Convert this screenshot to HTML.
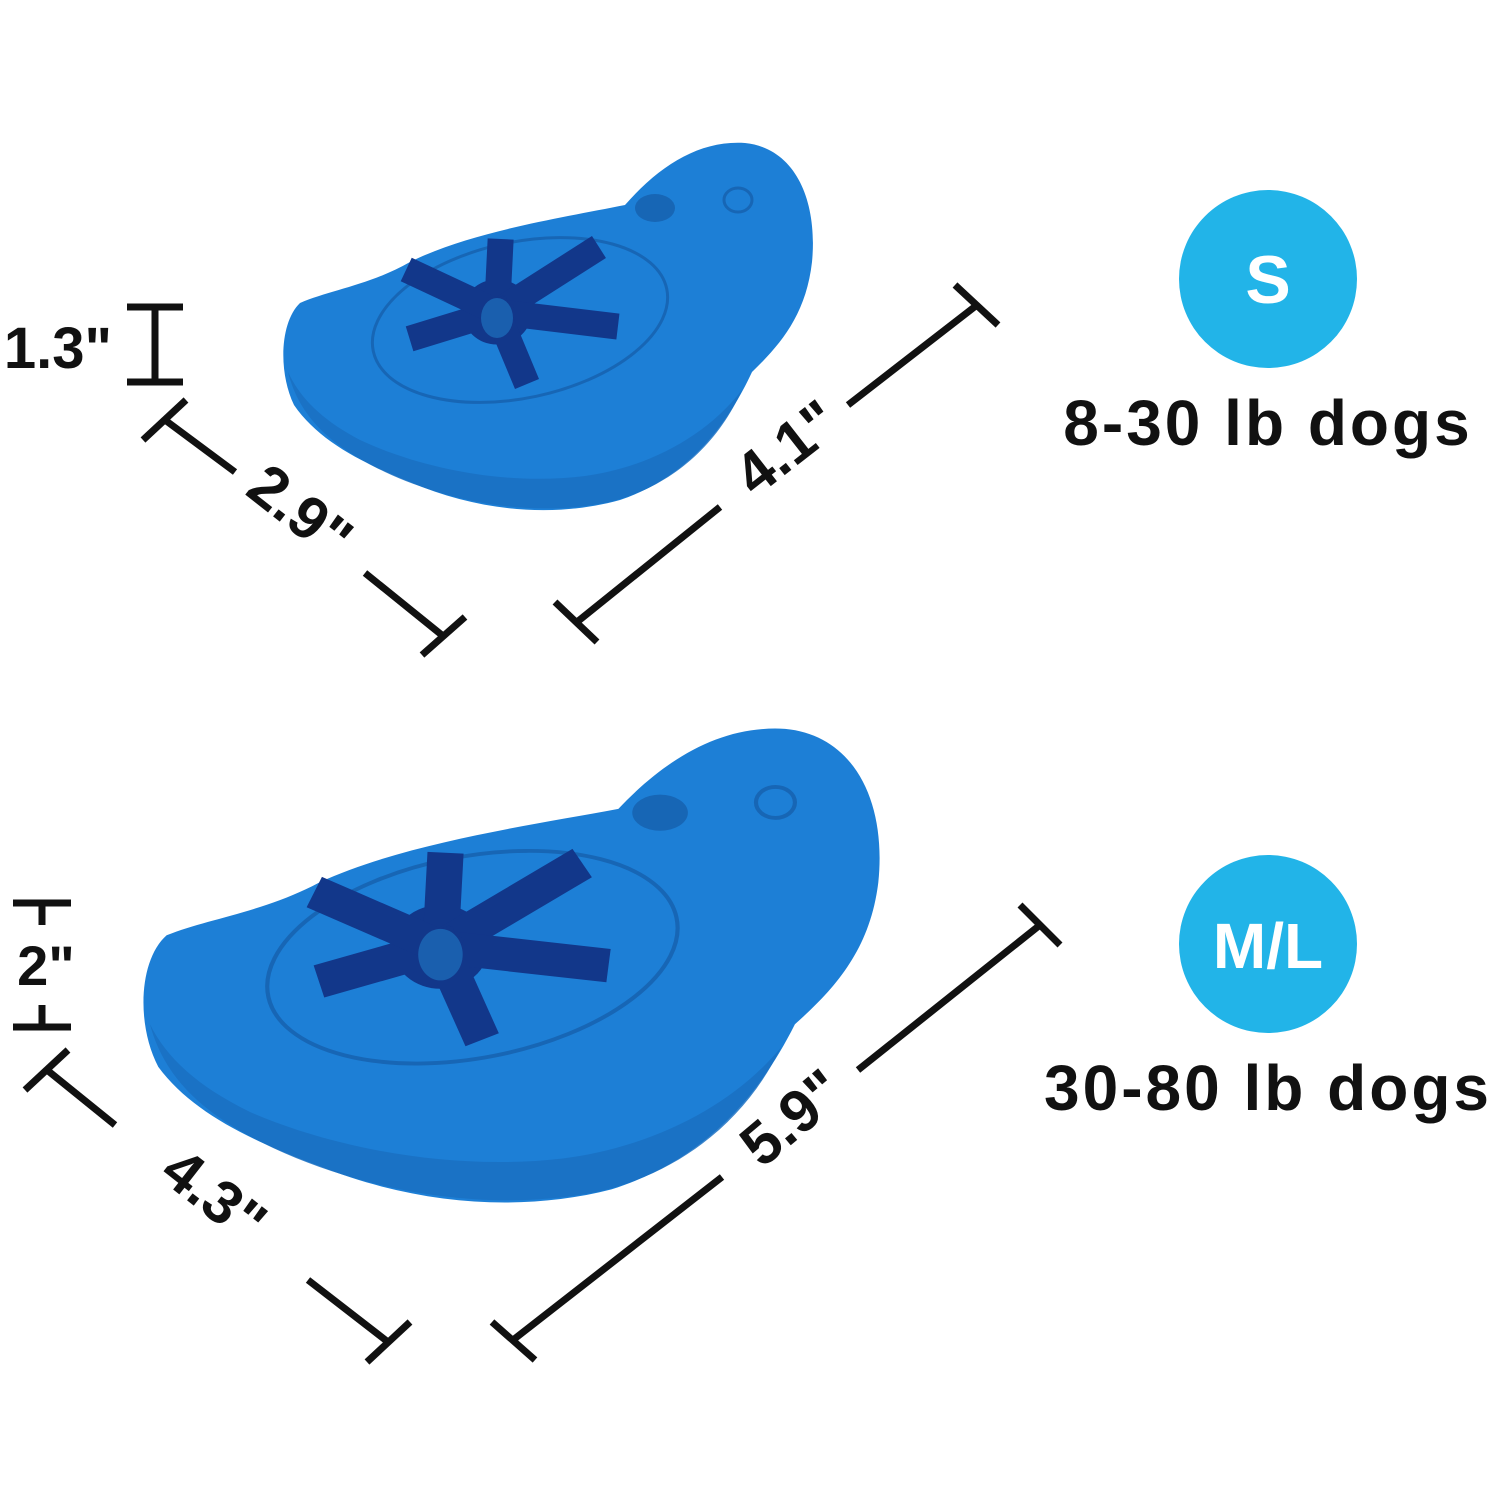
<!DOCTYPE html>
<html><head><meta charset="utf-8"><style>
html,body{margin:0;padding:0;background:#fff;}
svg{display:block}
text{font-family:"Liberation Sans",sans-serif;font-weight:bold;fill:#111;}
</style></head><body>
<svg width="1500" height="1500" viewBox="0 0 1500 1500" xmlns="http://www.w3.org/2000/svg">
<defs>
<g id="toy">
<path d="M300,303 C330,290 370,285 410,262 C470,232 560,218 625,205 C660,165 700,140 745,143 C795,148 818,200 812,262 C806,315 780,345 752,372 C725,430 685,478 620,500 C555,518 480,512 410,482 C360,462 318,440 294,405 C278,372 280,322 300,303 Z" fill="#1d7fd6"/>
<path d="M288,372 C300,420 335,448 385,472 C445,500 525,518 605,503 C665,490 715,450 742,390 C705,438 645,468 585,476 C505,486 420,468 360,440 C322,420 300,398 288,372 Z" fill="#1a70c2" opacity="0.85"/>
<ellipse cx="520" cy="320" rx="150" ry="78" fill="none" stroke="#1766b5" stroke-width="3" transform="rotate(-12 520 320)"/>
<ellipse cx="655" cy="208" rx="20" ry="14" fill="#1766b5"/>
<ellipse cx="738" cy="200" rx="14" ry="12" fill="none" stroke="#1766b5" stroke-width="3"/>
<g fill="#12378a" stroke="#12378a" stroke-linecap="square">
<ellipse cx="497" cy="312" rx="34" ry="32"/>
<g stroke-width="26">
<line x1="497" y1="312" x2="500" y2="252"/>
<line x1="497" y1="312" x2="588" y2="254"/>
<line x1="497" y1="312" x2="605" y2="325"/>
<line x1="497" y1="312" x2="522" y2="372"/>
<line x1="497" y1="312" x2="422" y2="335"/>
<line x1="497" y1="312" x2="418" y2="275"/>
</g>
</g>
<ellipse cx="497" cy="318" rx="16" ry="20" fill="#1a5fae"/>
</g>
</defs>
<use href="#toy"/>
<use href="#toy" transform="translate(143,725) scale(1.39,1.29) translate(-283,-140)"/>

<g stroke="#111" stroke-width="7" fill="none">
<line x1="155" y1="307" x2="155" y2="382"/><line x1="127" y1="307" x2="183" y2="307"/><line x1="127" y1="382" x2="183" y2="382"/>
<line x1="165" y1="420" x2="235" y2="472"/><line x1="365" y1="573" x2="443" y2="636"/>
<line x1="143" y1="440" x2="186" y2="400"/><line x1="422" y1="655" x2="465" y2="617"/>
<line x1="577" y1="622" x2="720" y2="507"/><line x1="848" y1="405" x2="977" y2="305"/>
<line x1="555" y1="602" x2="597" y2="642"/><line x1="955" y1="285" x2="998" y2="325"/>
<line x1="42" y1="903" x2="42" y2="925"/><line x1="42" y1="1005" x2="42" y2="1027"/><line x1="13" y1="903" x2="71" y2="903"/><line x1="13" y1="1027" x2="71" y2="1027"/>
<line x1="47" y1="1070" x2="115" y2="1125"/><line x1="308" y1="1280" x2="388" y2="1342"/>
<line x1="25" y1="1090" x2="68" y2="1050"/><line x1="367" y1="1362" x2="410" y2="1322"/>
<line x1="513" y1="1340" x2="722" y2="1177"/><line x1="858" y1="1070" x2="1040" y2="925"/>
<line x1="492" y1="1322" x2="535" y2="1360"/><line x1="1020" y1="905" x2="1060" y2="945"/>
</g>

<text x="58" y="368" font-size="58" text-anchor="middle">1.3"</text>
<text font-size="60" text-anchor="middle" transform="translate(300,512) rotate(38)" y="20">2.9"</text>
<text font-size="60" text-anchor="middle" transform="translate(787,448) rotate(-38)" y="20">4.1"</text>
<text x="46" y="985" font-size="56" text-anchor="middle">2"</text>
<text font-size="60" text-anchor="middle" transform="translate(214,1196) rotate(38)" y="20">4.3"</text>
<text font-size="60" text-anchor="middle" transform="translate(792,1118) rotate(-40)" y="20">5.9"</text>

<circle cx="1268" cy="279" r="89" fill="#22b4e8"/>
<text x="1268" y="303" font-size="68" text-anchor="middle" style="fill:#fff">S</text>
<text x="1268" y="445" font-size="64" text-anchor="middle" letter-spacing="3">8-30 lb dogs</text>
<circle cx="1268" cy="944" r="89" fill="#22b4e8"/>
<text x="1268" y="968" font-size="64" text-anchor="middle" style="fill:#fff">M/L</text>
<text x="1268" y="1110" font-size="64" text-anchor="middle" letter-spacing="3">30-80 lb dogs</text>
</svg>
</body></html>
